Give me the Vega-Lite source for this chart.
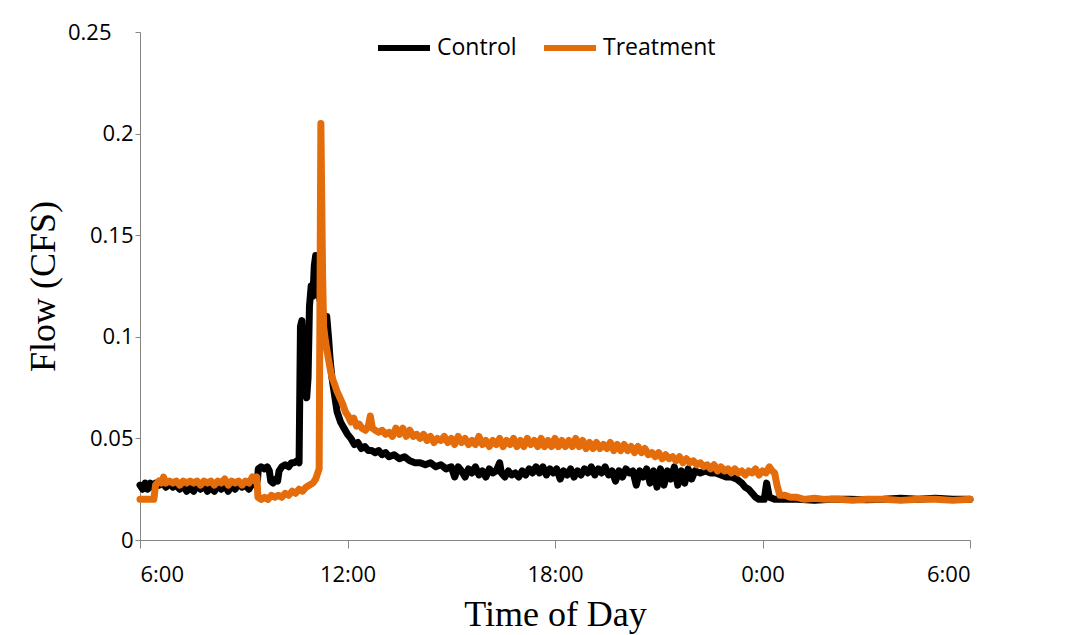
{
  "$schema": "https://vega.github.io/schema/vega-lite/v6.json",
  "width": 830,
  "height": 508,
  "autosize": "none",
  "padding": {"left": 140, "top": 32, "right": 105, "bottom": 95},
  "background": "white",
  "config": {"view": {"stroke": null}},
  "datasets": {
    "control": [
      {"t":6.00,"v":0.027},{"t":6.08,"v":0.025},{"t":6.15,"v":0.028},{"t":6.22,"v":0.025},{"t":6.30,"v":0.028},{"t":6.38,"v":0.026},{"t":6.45,"v":0.028},{"t":6.55,"v":0.027},{"t":6.65,"v":0.028},{"t":6.75,"v":0.026},{"t":6.85,"v":0.028},{"t":6.95,"v":0.026},{"t":7.05,"v":0.027},{"t":7.15,"v":0.025},{"t":7.25,"v":0.027},{"t":7.35,"v":0.024},{"t":7.45,"v":0.026},{"t":7.55,"v":0.024},{"t":7.65,"v":0.027},{"t":7.75,"v":0.025},{"t":7.85,"v":0.027},{"t":7.95,"v":0.024},{"t":8.05,"v":0.026},{"t":8.15,"v":0.024},{"t":8.25,"v":0.027},{"t":8.35,"v":0.025},{"t":8.45,"v":0.027},{"t":8.55,"v":0.024},{"t":8.65,"v":0.027},{"t":8.75,"v":0.025},{"t":8.85,"v":0.028},{"t":8.95,"v":0.026},{"t":9.05,"v":0.027},{"t":9.15,"v":0.025},{"t":9.25,"v":0.028},{"t":9.35,"v":0.027},{"t":9.40,"v":0.030},{"t":9.42,"v":0.035},{"t":9.50,"v":0.036},{"t":9.60,"v":0.035},{"t":9.68,"v":0.036},{"t":9.74,"v":0.034},{"t":9.78,"v":0.029},{"t":9.85,"v":0.028},{"t":9.93,"v":0.030},{"t":9.98,"v":0.029},{"t":10.02,"v":0.034},{"t":10.10,"v":0.036},{"t":10.20,"v":0.037},{"t":10.30,"v":0.036},{"t":10.38,"v":0.038},{"t":10.46,"v":0.038},{"t":10.54,"v":0.039},{"t":10.60,"v":0.038},{"t":10.64,"v":0.105},{"t":10.68,"v":0.108},{"t":10.72,"v":0.09},{"t":10.76,"v":0.075},{"t":10.82,"v":0.07},{"t":10.86,"v":0.08},{"t":10.90,"v":0.115},{"t":10.95,"v":0.125},{"t":11.00,"v":0.12},{"t":11.04,"v":0.135},{"t":11.08,"v":0.14},{"t":11.12,"v":0.13},{"t":11.18,"v":0.12},{"t":11.25,"v":0.115},{"t":11.32,"v":0.11},{"t":11.40,"v":0.11},{"t":11.45,"v":0.1},{"t":11.50,"v":0.088},{"t":11.55,"v":0.08},{"t":11.62,"v":0.072},{"t":11.70,"v":0.063},{"t":11.80,"v":0.058},{"t":11.90,"v":0.055},{"t":12.00,"v":0.052},{"t":12.10,"v":0.05},{"t":12.20,"v":0.047},{"t":12.30,"v":0.048},{"t":12.40,"v":0.045},{"t":12.50,"v":0.046},{"t":12.60,"v":0.044},{"t":12.70,"v":0.044},{"t":12.80,"v":0.043},{"t":12.90,"v":0.044},{"t":13.00,"v":0.042},{"t":13.10,"v":0.043},{"t":13.20,"v":0.041},{"t":13.35,"v":0.042},{"t":13.50,"v":0.040},{"t":13.65,"v":0.041},{"t":13.80,"v":0.039},{"t":13.95,"v":0.038},{"t":14.10,"v":0.038},{"t":14.25,"v":0.037},{"t":14.40,"v":0.038},{"t":14.55,"v":0.036},{"t":14.70,"v":0.037},{"t":14.85,"v":0.035},{"t":15.00,"v":0.036},{"t":15.10,"v":0.031},{"t":15.20,"v":0.036},{"t":15.30,"v":0.034},{"t":15.40,"v":0.031},{"t":15.50,"v":0.035},{"t":15.60,"v":0.033},{"t":15.70,"v":0.036},{"t":15.80,"v":0.032},{"t":15.90,"v":0.034},{"t":16.00,"v":0.031},{"t":16.10,"v":0.035},{"t":16.20,"v":0.033},{"t":16.30,"v":0.034},{"t":16.40,"v":0.038},{"t":16.45,"v":0.033},{"t":16.55,"v":0.031},{"t":16.65,"v":0.034},{"t":16.75,"v":0.032},{"t":16.85,"v":0.033},{"t":16.95,"v":0.031},{"t":17.05,"v":0.034},{"t":17.15,"v":0.032},{"t":17.25,"v":0.035},{"t":17.35,"v":0.033},{"t":17.45,"v":0.036},{"t":17.55,"v":0.033},{"t":17.65,"v":0.036},{"t":17.75,"v":0.032},{"t":17.85,"v":0.035},{"t":17.95,"v":0.033},{"t":18.05,"v":0.035},{"t":18.15,"v":0.030},{"t":18.25,"v":0.034},{"t":18.35,"v":0.032},{"t":18.45,"v":0.035},{"t":18.55,"v":0.031},{"t":18.65,"v":0.034},{"t":18.75,"v":0.032},{"t":18.85,"v":0.035},{"t":18.95,"v":0.033},{"t":19.05,"v":0.036},{"t":19.15,"v":0.032},{"t":19.25,"v":0.035},{"t":19.35,"v":0.033},{"t":19.45,"v":0.036},{"t":19.55,"v":0.032},{"t":19.65,"v":0.034},{"t":19.75,"v":0.029},{"t":19.85,"v":0.034},{"t":19.95,"v":0.031},{"t":20.05,"v":0.035},{"t":20.15,"v":0.033},{"t":20.25,"v":0.034},{"t":20.35,"v":0.027},{"t":20.45,"v":0.034},{"t":20.55,"v":0.031},{"t":20.65,"v":0.035},{"t":20.75,"v":0.028},{"t":20.85,"v":0.034},{"t":20.95,"v":0.026},{"t":21.05,"v":0.035},{"t":21.15,"v":0.027},{"t":21.25,"v":0.034},{"t":21.35,"v":0.030},{"t":21.45,"v":0.036},{"t":21.55,"v":0.027},{"t":21.65,"v":0.034},{"t":21.75,"v":0.028},{"t":21.85,"v":0.035},{"t":21.95,"v":0.030},{"t":22.05,"v":0.034},{"t":22.20,"v":0.033},{"t":22.35,"v":0.034},{"t":22.50,"v":0.033},{"t":22.65,"v":0.033},{"t":22.80,"v":0.032},{"t":22.95,"v":0.031},{"t":23.10,"v":0.031},{"t":23.25,"v":0.030},{"t":23.40,"v":0.028},{"t":23.50,"v":0.026},{"t":23.60,"v":0.025},{"t":23.70,"v":0.023},{"t":23.80,"v":0.021},{"t":23.90,"v":0.020},{"t":24.05,"v":0.020},{"t":24.12,"v":0.028},{"t":24.20,"v":0.021},{"t":24.35,"v":0.020},{"t":24.60,"v":0.020},{"t":25.00,"v":0.020},{"t":25.50,"v":0.0195},{"t":26.00,"v":0.020},{"t":26.50,"v":0.020},{"t":27.00,"v":0.0198},{"t":27.50,"v":0.020},{"t":28.00,"v":0.0205},{"t":28.50,"v":0.020},{"t":29.00,"v":0.0205},{"t":29.50,"v":0.020},{"t":30.00,"v":0.020}
    ],
    "treatment": [
      {"t":6.00,"v":0.020},{"t":6.20,"v":0.020},{"t":6.40,"v":0.020},{"t":6.45,"v":0.027},{"t":6.55,"v":0.029},{"t":6.62,"v":0.028},{"t":6.68,"v":0.031},{"t":6.75,"v":0.028},{"t":6.85,"v":0.029},{"t":6.95,"v":0.028},{"t":7.05,"v":0.029},{"t":7.15,"v":0.027},{"t":7.25,"v":0.029},{"t":7.35,"v":0.028},{"t":7.45,"v":0.029},{"t":7.55,"v":0.028},{"t":7.65,"v":0.029},{"t":7.75,"v":0.027},{"t":7.85,"v":0.029},{"t":7.95,"v":0.028},{"t":8.05,"v":0.029},{"t":8.15,"v":0.027},{"t":8.25,"v":0.029},{"t":8.35,"v":0.028},{"t":8.45,"v":0.030},{"t":8.55,"v":0.027},{"t":8.65,"v":0.029},{"t":8.75,"v":0.028},{"t":8.85,"v":0.029},{"t":8.95,"v":0.027},{"t":9.05,"v":0.029},{"t":9.15,"v":0.028},{"t":9.25,"v":0.031},{"t":9.32,"v":0.029},{"t":9.38,"v":0.031},{"t":9.41,"v":0.021},{"t":9.50,"v":0.020},{"t":9.60,"v":0.021},{"t":9.70,"v":0.020},{"t":9.80,"v":0.022},{"t":9.90,"v":0.021},{"t":10.00,"v":0.022},{"t":10.10,"v":0.021},{"t":10.20,"v":0.023},{"t":10.30,"v":0.022},{"t":10.40,"v":0.024},{"t":10.50,"v":0.023},{"t":10.60,"v":0.025},{"t":10.70,"v":0.024},{"t":10.80,"v":0.026},{"t":10.90,"v":0.027},{"t":11.00,"v":0.028},{"t":11.08,"v":0.030},{"t":11.14,"v":0.033},{"t":11.18,"v":0.035},{"t":11.23,"v":0.205},{"t":11.28,"v":0.13},{"t":11.31,"v":0.105},{"t":11.36,"v":0.098},{"t":11.42,"v":0.092},{"t":11.48,"v":0.086},{"t":11.55,"v":0.080},{"t":11.62,"v":0.077},{"t":11.70,"v":0.073},{"t":11.78,"v":0.070},{"t":11.86,"v":0.067},{"t":11.94,"v":0.063},{"t":12.02,"v":0.061},{"t":12.10,"v":0.058},{"t":12.18,"v":0.060},{"t":12.26,"v":0.056},{"t":12.34,"v":0.057},{"t":12.42,"v":0.055},{"t":12.52,"v":0.054},{"t":12.60,"v":0.056},{"t":12.66,"v":0.061},{"t":12.72,"v":0.055},{"t":12.80,"v":0.054},{"t":12.90,"v":0.053},{"t":13.00,"v":0.054},{"t":13.10,"v":0.052},{"t":13.20,"v":0.053},{"t":13.30,"v":0.051},{"t":13.40,"v":0.055},{"t":13.50,"v":0.052},{"t":13.60,"v":0.055},{"t":13.70,"v":0.051},{"t":13.80,"v":0.054},{"t":13.90,"v":0.051},{"t":14.00,"v":0.052},{"t":14.10,"v":0.050},{"t":14.20,"v":0.052},{"t":14.30,"v":0.049},{"t":14.40,"v":0.051},{"t":14.50,"v":0.048},{"t":14.60,"v":0.050},{"t":14.70,"v":0.049},{"t":14.80,"v":0.051},{"t":14.90,"v":0.048},{"t":15.00,"v":0.050},{"t":15.10,"v":0.047},{"t":15.20,"v":0.051},{"t":15.30,"v":0.048},{"t":15.40,"v":0.050},{"t":15.50,"v":0.047},{"t":15.60,"v":0.049},{"t":15.70,"v":0.047},{"t":15.80,"v":0.051},{"t":15.90,"v":0.047},{"t":16.00,"v":0.049},{"t":16.10,"v":0.046},{"t":16.20,"v":0.049},{"t":16.30,"v":0.047},{"t":16.40,"v":0.050},{"t":16.50,"v":0.046},{"t":16.60,"v":0.049},{"t":16.70,"v":0.047},{"t":16.80,"v":0.050},{"t":16.90,"v":0.046},{"t":17.00,"v":0.049},{"t":17.10,"v":0.046},{"t":17.20,"v":0.050},{"t":17.30,"v":0.047},{"t":17.40,"v":0.049},{"t":17.50,"v":0.046},{"t":17.60,"v":0.050},{"t":17.70,"v":0.046},{"t":17.80,"v":0.049},{"t":17.90,"v":0.046},{"t":18.00,"v":0.050},{"t":18.10,"v":0.046},{"t":18.20,"v":0.049},{"t":18.30,"v":0.046},{"t":18.40,"v":0.049},{"t":18.50,"v":0.046},{"t":18.60,"v":0.050},{"t":18.70,"v":0.046},{"t":18.80,"v":0.049},{"t":18.90,"v":0.045},{"t":19.00,"v":0.048},{"t":19.10,"v":0.045},{"t":19.20,"v":0.048},{"t":19.30,"v":0.045},{"t":19.40,"v":0.047},{"t":19.50,"v":0.045},{"t":19.60,"v":0.048},{"t":19.70,"v":0.044},{"t":19.80,"v":0.047},{"t":19.90,"v":0.044},{"t":20.00,"v":0.047},{"t":20.10,"v":0.044},{"t":20.20,"v":0.046},{"t":20.30,"v":0.043},{"t":20.40,"v":0.046},{"t":20.50,"v":0.043},{"t":20.60,"v":0.045},{"t":20.70,"v":0.042},{"t":20.80,"v":0.043},{"t":20.90,"v":0.041},{"t":21.00,"v":0.043},{"t":21.10,"v":0.040},{"t":21.20,"v":0.042},{"t":21.30,"v":0.040},{"t":21.40,"v":0.041},{"t":21.50,"v":0.039},{"t":21.60,"v":0.041},{"t":21.70,"v":0.038},{"t":21.80,"v":0.040},{"t":21.90,"v":0.038},{"t":22.00,"v":0.039},{"t":22.10,"v":0.037},{"t":22.20,"v":0.038},{"t":22.30,"v":0.036},{"t":22.40,"v":0.037},{"t":22.50,"v":0.035},{"t":22.60,"v":0.037},{"t":22.70,"v":0.034},{"t":22.80,"v":0.036},{"t":22.90,"v":0.034},{"t":23.00,"v":0.035},{"t":23.10,"v":0.033},{"t":23.20,"v":0.035},{"t":23.30,"v":0.033},{"t":23.40,"v":0.034},{"t":23.50,"v":0.032},{"t":23.60,"v":0.034},{"t":23.70,"v":0.033},{"t":23.80,"v":0.035},{"t":23.90,"v":0.032},{"t":24.00,"v":0.034},{"t":24.10,"v":0.033},{"t":24.20,"v":0.036},{"t":24.28,"v":0.034},{"t":24.35,"v":0.033},{"t":24.42,"v":0.027},{"t":24.50,"v":0.022},{"t":24.65,"v":0.022},{"t":24.80,"v":0.021},{"t":25.00,"v":0.021},{"t":25.20,"v":0.020},{"t":25.50,"v":0.0205},{"t":25.80,"v":0.020},{"t":26.20,"v":0.020},{"t":26.60,"v":0.0195},{"t":27.00,"v":0.020},{"t":27.50,"v":0.020},{"t":28.00,"v":0.0195},{"t":28.50,"v":0.020},{"t":29.00,"v":0.020},{"t":29.50,"v":0.0195},{"t":30.00,"v":0.020}
    ]
  },
  "encoding": {
    "x": {
      "field": "t", "type": "quantitative",
      "scale": {"domain": [6, 30], "nice": false, "zero": false},
      "axis": {
        "values": [6, 12, 18, 24, 30],
        "labelExpr": "(datum.value % 24) + ':00'",
        "title": "Time of Day",
        "grid": false,
        "domainColor": "#868686", "tickColor": "#868686", "tickSize": 8,
        "labelFont": "Open Sans", "labelFontSize": 22, "labelColor": "black", "labelPadding": 16,
        "titleFont": "Liberation Serif", "titleFontSize": 36, "titleFontWeight": "normal", "titleColor": "black", "titlePadding": 12
      }
    },
    "y": {
      "field": "v", "type": "quantitative",
      "scale": {"domain": [0, 0.25], "nice": false},
      "axis": {
        "values": [0, 0.05, 0.1, 0.15, 0.2, 0.25],
        "format": "~g",
        "title": "Flow (CFS)",
        "grid": false,
        "domainColor": "#868686", "tickColor": "#868686", "tickSize": 5,
        "labelFont": "Open Sans", "labelFontSize": 22, "labelColor": "black",
        "labelPadding": {"condition": {"test": "datum.value == 0.25", "value": 24}, "value": 2},
        "titleFont": "Liberation Serif", "titleFontSize": 36, "titleFontWeight": "normal", "titleColor": "black", "titlePadding": 5
      }
    }
  },
  "layer": [
    {
      "data": {"name": "control"},
      "mark": {"type": "line", "strokeWidth": 7, "strokeCap": "round", "strokeJoin": "round"},
      "encoding": {"color": {"datum": "Control"}}
    },
    {
      "data": {"name": "treatment"},
      "mark": {"type": "line", "strokeWidth": 7, "strokeCap": "round", "strokeJoin": "round"},
      "encoding": {
        "color": {
          "datum": "Treatment",
          "scale": {"domain": ["Control", "Treatment"], "range": ["#000000", "#E46C0A"]},
          "legend": {
            "orient": "none", "legendX": 235, "legendY": -13, "direction": "horizontal", "title": null,
            "symbolType": "stroke", "symbolSize": 2704, "symbolStrokeWidth": 6,
            "labelFont": "Open Sans", "labelFontSize": 23, "labelColor": "black", "labelOffset": 4,
            "columnPadding": 15
          }
        }
      }
    }
  ]
}
